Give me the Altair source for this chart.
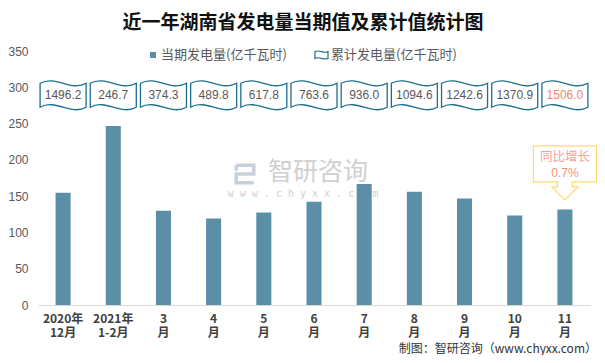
import altair as alt
import pandas as pd

# ---- data ----
categories = ["2020年\n12月", "2021年\n1-2月", "3\n月", "4\n月", "5\n月", "6\n月",
              "7\n月", "8\n月", "9\n月", "10\n月", "11\n月"]
monthly = [154.6, 246.7, 129.7, 119.1, 127.3, 142.4, 166.8, 156.2, 146.6, 123.2, 131.5]
cumulative = [1496.2, 246.7, 374.3, 489.8, 617.8, 763.6, 936.0, 1094.6, 1242.6, 1370.9, 1506.0]
highlight = [False] * 10 + [True]
y_ticks = [0, 50, 100, 150, 200, 250, 300, 350]
title_text = "近一年湖南省发电量当期值及累计值统计图"
legend_labels = ["当期发电量(亿千瓦时)", "累计发电量(亿千瓦时)"]
yoy_label = ["同比增长", "0.7%"]
source_text = "制图：智研咨询（www.chyxx.com）"
watermark = ["智研咨询", "w w w . c h y x x . c o m"]

FLAG_LEVEL = 289
YOY_BOX = 182
YOY_L1 = 204
YOY_L2 = 182

df = pd.DataFrame({
    "cat": categories,
    "value": monthly,
    "cum": [f"{v:.1f}" for v in cumulative],
    "hl": highlight,
})

BAR = "#5B8FA7"
FLAG_STROKE = "#1E6E8E"
CJK = "Noto Sans CJK SC"

FLAG = ("M -1 -0.52 C -0.33 -0.9 0.33 -0.14 1 -0.52 L 1 0.52 "
        "C 0.33 0.9 -0.33 0.14 -1 0.52 Z")
CALLOUT = ("M -1 -0.857 L 1 -0.857 L 1 0.286 L 0.238 0.286 L 0.238 0.444 "
           "L 0.41 0.444 L 0 0.857 L -0.41 0.444 L -0.238 0.444 L -0.238 0.286 "
           "L -1 0.286 Z")
LOGO = "M -0.8 -0.8 L 0.8 -0.8 L 0.8 0 L -0.8 0 L -0.8 0.8 L 0.8 0.8 M -0.8 -0.8 L -0.8 -0.3"

x_scale = alt.Scale(paddingInner=0.7, paddingOuter=0.35)
x_axis = alt.Axis(title=None, labelAngle=0,
                  labelExpr="split(datum.label, '\\n')",
                  labelFont=CJK, labelFontSize=12, labelFontWeight="bold",
                  labelColor="#404040", labelLineHeight=14,
                  labelPadding=8, ticks=False, labelOverlap=False,
                  domainColor="#D9D9D9", domainWidth=1)
y_scale = alt.Scale(domain=[0, 350], nice=False)
y_axis = alt.Axis(title=None, values=y_ticks, grid=False,
                  domain=False, ticks=False, labelPadding=10,
                  labelOverlap=False, labelFlush=False,
                  labelFont="Liberation Sans", labelFontSize=12,
                  labelColor="#595959")

xcat = alt.X("cat:N", sort=categories, scale=x_scale, axis=x_axis)

def ylevel(v):
    return alt.YDatum(v, type="quantitative", scale=y_scale, axis=y_axis)

base = alt.Chart(df)

bars = base.mark_bar(color=BAR).encode(
    x=xcat, y=alt.Y("value:Q", scale=y_scale, axis=y_axis))

flags = base.mark_point(shape=FLAG, size=46 * 46, filled=True, color="white",
                        stroke=FLAG_STROKE, strokeWidth=1.3, opacity=1).encode(
    x=xcat, y=ylevel(FLAG_LEVEL))

flag_text = base.mark_text(font="Liberation Sans", fontSize=12, baseline="middle").encode(
    x=xcat, y=ylevel(FLAG_LEVEL), text="cum:N",
    color=alt.condition("datum.hl", alt.value("#F4856C"), alt.value("#595959")))

last = alt.Chart(pd.DataFrame({"cat": [categories[-1]], "l1": [yoy_label[0]], "l2": [yoy_label[1]]}))
callout = last.mark_point(shape=CALLOUT, size=63 * 63, filled=True, color="white",
                          stroke="#FFD970", strokeWidth=1.2, opacity=1).encode(
    x=xcat, y=ylevel(YOY_BOX))
callout_t1 = last.mark_text(font=CJK, fontSize=12.5, color="#F4A39A").encode(
    x=xcat, y=ylevel(YOY_L1), text="l1:N")
callout_t2 = last.mark_text(font="Liberation Sans", fontSize=12, color="#F29274").encode(
    x=xcat, y=ylevel(YOY_L2), text="l2:N")

single = lambda **kw: alt.Chart(pd.DataFrame(kw))

title = single(t=[title_text]).mark_text(font=CJK, fontSize=19, fontWeight="bold",
                                         color="#111111").encode(
    text="t:N", x=alt.value(265), y=alt.value(-28))

leg_sq = single(t=[legend_labels[0]]).mark_point(shape="square", size=36, filled=True,
                                                 color=BAR, opacity=1).encode(
    x=alt.value(115), y=alt.value(4))
leg_t1 = single(t=[legend_labels[0]]).mark_text(font=CJK, fontSize=13, align="left",
                                                color="#595959").encode(
    text="t:N", x=alt.value(123), y=alt.value(4))
leg_flag = single(t=[legend_labels[1]]).mark_point(shape=FLAG, size=13 * 13, filled=True,
                                                   color="white", stroke=FLAG_STROKE,
                                                   strokeWidth=1.2, opacity=1).encode(
    x=alt.value(283.5), y=alt.value(4))
leg_t2 = single(t=[legend_labels[1]]).mark_text(font=CJK, fontSize=13, align="left",
                                                color="#595959").encode(
    text="t:N", x=alt.value(293), y=alt.value(4))

wm_logo = single(t=[watermark[0]]).mark_point(shape=LOGO, size=22 * 22, filled=False,
                                              stroke="#C3CCDA", strokeWidth=3.5,
                                              opacity=0.9).encode(
    x=alt.value(207), y=alt.value(123))
wm_text = single(t=[watermark[0]]).mark_text(font=CJK, fontSize=25, color="#C8C8C8",
                                             opacity=0.85).encode(
    text="t:N", x=alt.value(280), y=alt.value(121))
wm_url = single(t=[watermark[1]]).mark_text(font="DejaVu Sans Mono", fontSize=10,
                                            color="#C8C8C8", opacity=0.85).encode(
    text="t:N", x=alt.value(265), y=alt.value(143))

footer = single(t=[source_text]).mark_text(font=CJK, fontSize=12, align="right",
                                           color="#333333").encode(
    text="t:N", x=alt.value(559), y=alt.value(298))

chart = alt.layer(
    wm_logo, wm_text, wm_url, bars, flags, flag_text, callout, callout_t1, callout_t2,
    title, leg_sq, leg_t1, leg_flag, leg_t2, footer
).properties(
    width=552, height=254,
    autosize=alt.AutoSizeParams(type="none"),
    padding={"left": 30, "top": 43, "right": 7, "bottom": 50},
    background="white",
).configure_view(stroke=None)

chart.save("out.html", embed_options={"renderer": "svg", "actions": False})
